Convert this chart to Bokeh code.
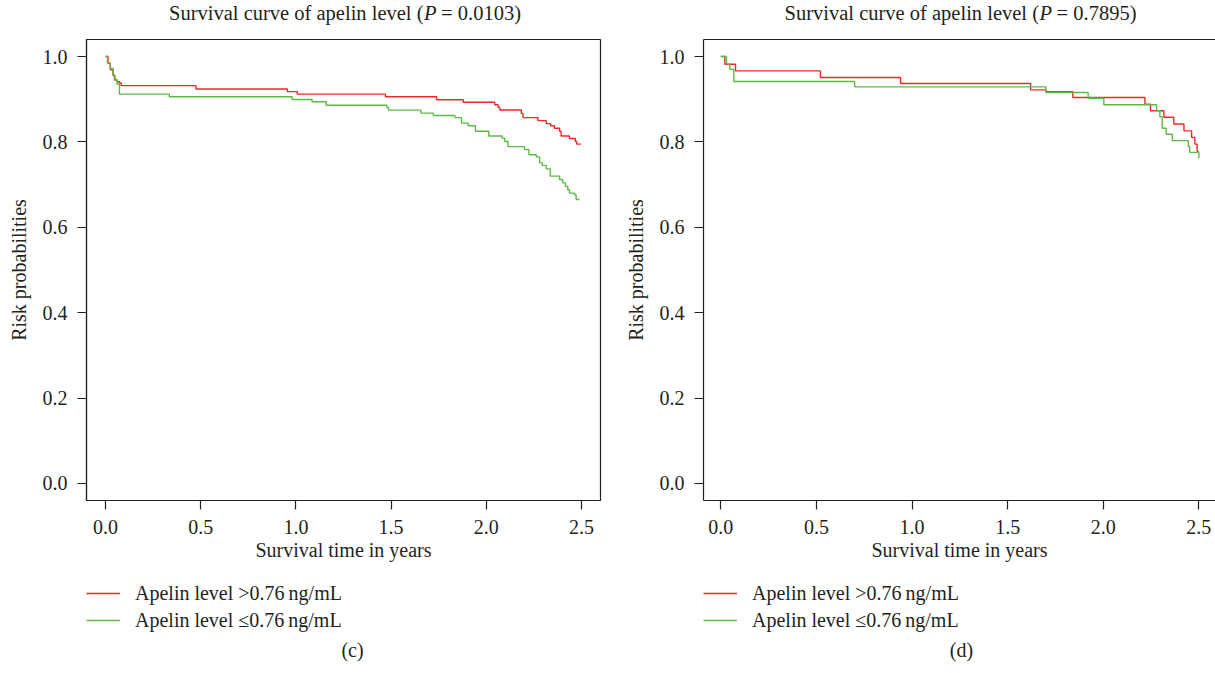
from bokeh.plotting import figure
from bokeh.models import (Range1d, Legend, LegendItem, LinearAxis, FixedTicker,
                          NumeralTickFormatter)
from bokeh.core.properties import value
from bokeh.layouts import row, column
from bokeh.embed import file_html
from bokeh.resources import INLINE

# ---------------- data ----------------
x_ticks = [0.0, 0.5, 1.0, 1.5, 2.0, 2.5]
y_ticks = [0.0, 0.2, 0.4, 0.6, 0.8, 1.0]
x_label = "Survival time in years"
y_label = "Risk probabilities"
title_text = "Survival curve of apelin level ("
title_p = ["0.0103", "0.7895"]
captions = ["(c)", "(d)"]
legend_labels = ["Apelin level >0.76\u2009ng/mL", "Apelin level \u22640.76\u2009ng/mL"]

# panel (c)
c_red_t = [0, 0.013, 0.025, 0.039, 0.047, 0.061, 0.073, 0.082, 0.475, 0.955, 1.007, 1.470,
           1.739, 1.879, 2.044, 2.062, 2.071, 2.184, 2.193, 2.271, 2.315, 2.338, 2.358, 2.385,
           2.393, 2.437, 2.468, 2.475, 2.498]
c_red_s = [1.0, 0.984, 0.969, 0.957, 0.945, 0.941, 0.938, 0.932, 0.924, 0.918, 0.912, 0.906,
           0.899, 0.893, 0.887, 0.881, 0.875, 0.867, 0.857, 0.850, 0.843, 0.838, 0.832, 0.825,
           0.814, 0.808, 0.801, 0.795, 0.795]
c_green_t = [0, 0.010, 0.025, 0.040, 0.050, 0.060, 0.073, 0.335, 0.980, 1.085, 1.159, 1.478,
             1.486, 1.657, 1.722, 1.835, 1.870, 1.905, 1.943, 2.013, 2.083, 2.097, 2.114, 2.201,
             2.224, 2.263, 2.280, 2.294, 2.315, 2.336, 2.385, 2.402, 2.416, 2.428, 2.437, 2.463,
             2.472, 2.490]
c_green_s = [1.0, 0.985, 0.972, 0.955, 0.945, 0.935, 0.912, 0.906, 0.8995, 0.894, 0.886, 0.881,
             0.8745, 0.8675, 0.862, 0.857, 0.844, 0.838, 0.825, 0.814, 0.809, 0.801, 0.789, 0.782,
             0.770, 0.765, 0.751, 0.745, 0.737, 0.720, 0.712, 0.704, 0.696, 0.688, 0.680, 0.676,
             0.665, 0.665]

# panel (d)
d_red_t = [0, 0.021, 0.077, 0.521, 0.940, 1.620, 1.700, 1.841, 2.218, 2.247, 2.317, 2.369,
           2.422, 2.462, 2.479, 2.491, 2.500]
d_red_s = [1.0, 0.982, 0.9665, 0.951, 0.937, 0.922, 0.918, 0.904, 0.8885, 0.873, 0.858, 0.842,
           0.826, 0.8106, 0.795, 0.778, 0.778]
d_green_t = [0, 0.030, 0.047, 0.068, 0.700, 1.700, 1.921, 2.003, 2.279, 2.296, 2.308, 2.329,
             2.361, 2.445, 2.452, 2.500]
d_green_s = [1.0, 0.983, 0.970, 0.9415, 0.929, 0.916, 0.9025, 0.887, 0.873, 0.859, 0.832, 0.818,
             0.803, 0.7896, 0.7756, 0.762]

# ---------------- style / layout ----------------
FONT = "Liberation Serif"
FS = "20px"
TFS = "20.5px"
TXT = "#231F20"
LINE = "#222222"
RED = "#F0282A"
GREEN = "#5CBB45"

TOTAL_W = 1215
TOTAL_H = 673
TOP_H = 29
MAIN_TOP = 10
FRAME_H = 461
MAIN_BOTTOM = 80
MAIN_H = MAIN_TOP + FRAME_H + MAIN_BOTTOM
BOT_H = TOTAL_H - TOP_H - MAIN_H
W1 = 620


def style_axis(ax):
    ax.major_tick_out = 9
    ax.major_tick_in = 0
    ax.minor_tick_out = 0
    ax.minor_tick_in = 0
    ax.minor_tick_line_color = None
    ax.major_tick_line_color = LINE
    ax.major_tick_line_width = 1.2
    ax.axis_line_color = LINE
    ax.axis_line_width = 1.2
    ax.major_label_text_font = FONT
    ax.major_label_text_font_size = FS
    ax.major_label_text_color = TXT
    ax.axis_label_text_font = FONT
    ax.axis_label_text_font_size = FS
    ax.axis_label_text_font_style = "normal"
    ax.axis_label_text_color = TXT


def make_panel(rt, rs, gt, gs, width, b_left, b_right, x_start, x_end, full_box):
    p = figure(width=width, height=MAIN_H, output_backend="svg", toolbar_location=None,
               title=None, x_range=Range1d(x_start, x_end), y_range=Range1d(-0.04, 1.04),
               min_border_left=b_left, min_border_right=b_right, min_border_top=MAIN_TOP,
               min_border_bottom=MAIN_BOTTOM)
    p.xgrid.visible = False
    p.ygrid.visible = False
    if full_box:
        p.outline_line_color = LINE
        p.outline_line_width = 1.2
    else:
        p.outline_line_color = None
        top = LinearAxis(ticker=FixedTicker(ticks=[]), major_label_text_font_size="0px",
                         major_tick_line_color=None, minor_tick_line_color=None,
                         major_label_standoff=0, axis_line_color=LINE, axis_line_width=1.2)
        p.add_layout(top, "above")

    p.step(rt, rs, mode="after", line_color=RED, line_width=1.4)
    p.step(gt, gs, mode="after", line_color=GREEN, line_width=1.4)

    xa = p.below[0]
    ya = p.left[0]
    xa.ticker = FixedTicker(ticks=x_ticks)
    ya.ticker = FixedTicker(ticks=y_ticks)
    xa.formatter = NumeralTickFormatter(format="0.0")
    ya.formatter = NumeralTickFormatter(format="0.0")
    xa.axis_label = x_label
    ya.axis_label = y_label
    style_axis(xa)
    style_axis(ya)
    xa.major_label_standoff = 10
    xa.axis_label_standoff = 2
    ya.major_label_standoff = 10
    ya.axis_label_standoff = 10
    return p


p1 = make_panel(c_red_t, c_red_s, c_green_t, c_green_s, W1, 86, W1 - 86 - 514, -0.1, 2.6, True)
p2 = make_panel(d_red_t, d_red_s, d_green_t, d_green_s, TOTAL_W - W1, 703 - W1, 0,
                -0.0905, 2.587, False)

# ---------- titles strip (screen-pixel coordinates) ----------
top = figure(width=TOTAL_W, height=TOP_H, output_backend="svg", toolbar_location=None,
             title=None, x_range=Range1d(0, TOTAL_W), y_range=Range1d(0, TOP_H),
             x_axis_location=None, y_axis_location=None, min_border=0,
             outline_line_color=None)
top.xgrid.visible = False
top.ygrid.visible = False
centers = [344.5, 960.0]
ty = 16.5
top.text(x=[c + 78.5 for c in centers], y=[ty, ty], text=[title_text, title_text],
         text_align="right", text_baseline="alphabetic", text_font=value(FONT),
         text_font_size=value(TFS), text_color=TXT)
top.text(x=[c + 79.0 for c in centers], y=[ty, ty], text=["P", "P"],
         text_align="left", text_baseline="alphabetic", text_font=value(FONT),
         text_font_style="italic", text_font_size=value(TFS), text_color=TXT)
top.text(x=[c + 96.1 for c in centers], y=[ty, ty], text=["= " + v + ")" for v in title_p],
         text_align="left", text_baseline="alphabetic", text_font=value(FONT),
         text_font_size=value(TFS), text_color=TXT)

# ---------- legend + caption strip ----------
bot = figure(width=TOTAL_W, height=BOT_H, output_backend="svg", toolbar_location=None,
             title=None, x_range=Range1d(0, TOTAL_W), y_range=Range1d(0, BOT_H),
             x_axis_location=None, y_axis_location=None, min_border=0,
             outline_line_color=None)
bot.xgrid.visible = False
bot.ygrid.visible = False
nan = float("nan")
leg_x = [86, 703]
for lx in leg_x:
    lr = bot.line(x=[nan], y=[nan], line_color=RED, line_width=1.3)
    lg = bot.line(x=[nan], y=[nan], line_color=GREEN, line_width=1.3)
    legend = Legend(items=[LegendItem(label=legend_labels[0], renderers=[lr]),
                           LegendItem(label=legend_labels[1], renderers=[lg])],
                    location=(lx, BOT_H - 51.5), orientation="vertical",
                    background_fill_alpha=0, border_line_color=None,
                    padding=0, margin=0, spacing=4, glyph_width=34, glyph_height=20,
                    label_height=20, label_standoff=15, label_text_font=FONT,
                    label_text_font_size=FS, label_text_color=TXT)
    bot.add_layout(legend)

bot.text(x=[352, 961], y=[BOT_H - 69, BOT_H - 69], text=captions, text_align="center",
         text_baseline="middle", text_font=value(FONT), text_font_size=value(FS),
         text_color=TXT)

layout = column(top, row(p1, p2), bot)
open("out.html", "w").write(file_html(layout, INLINE))
